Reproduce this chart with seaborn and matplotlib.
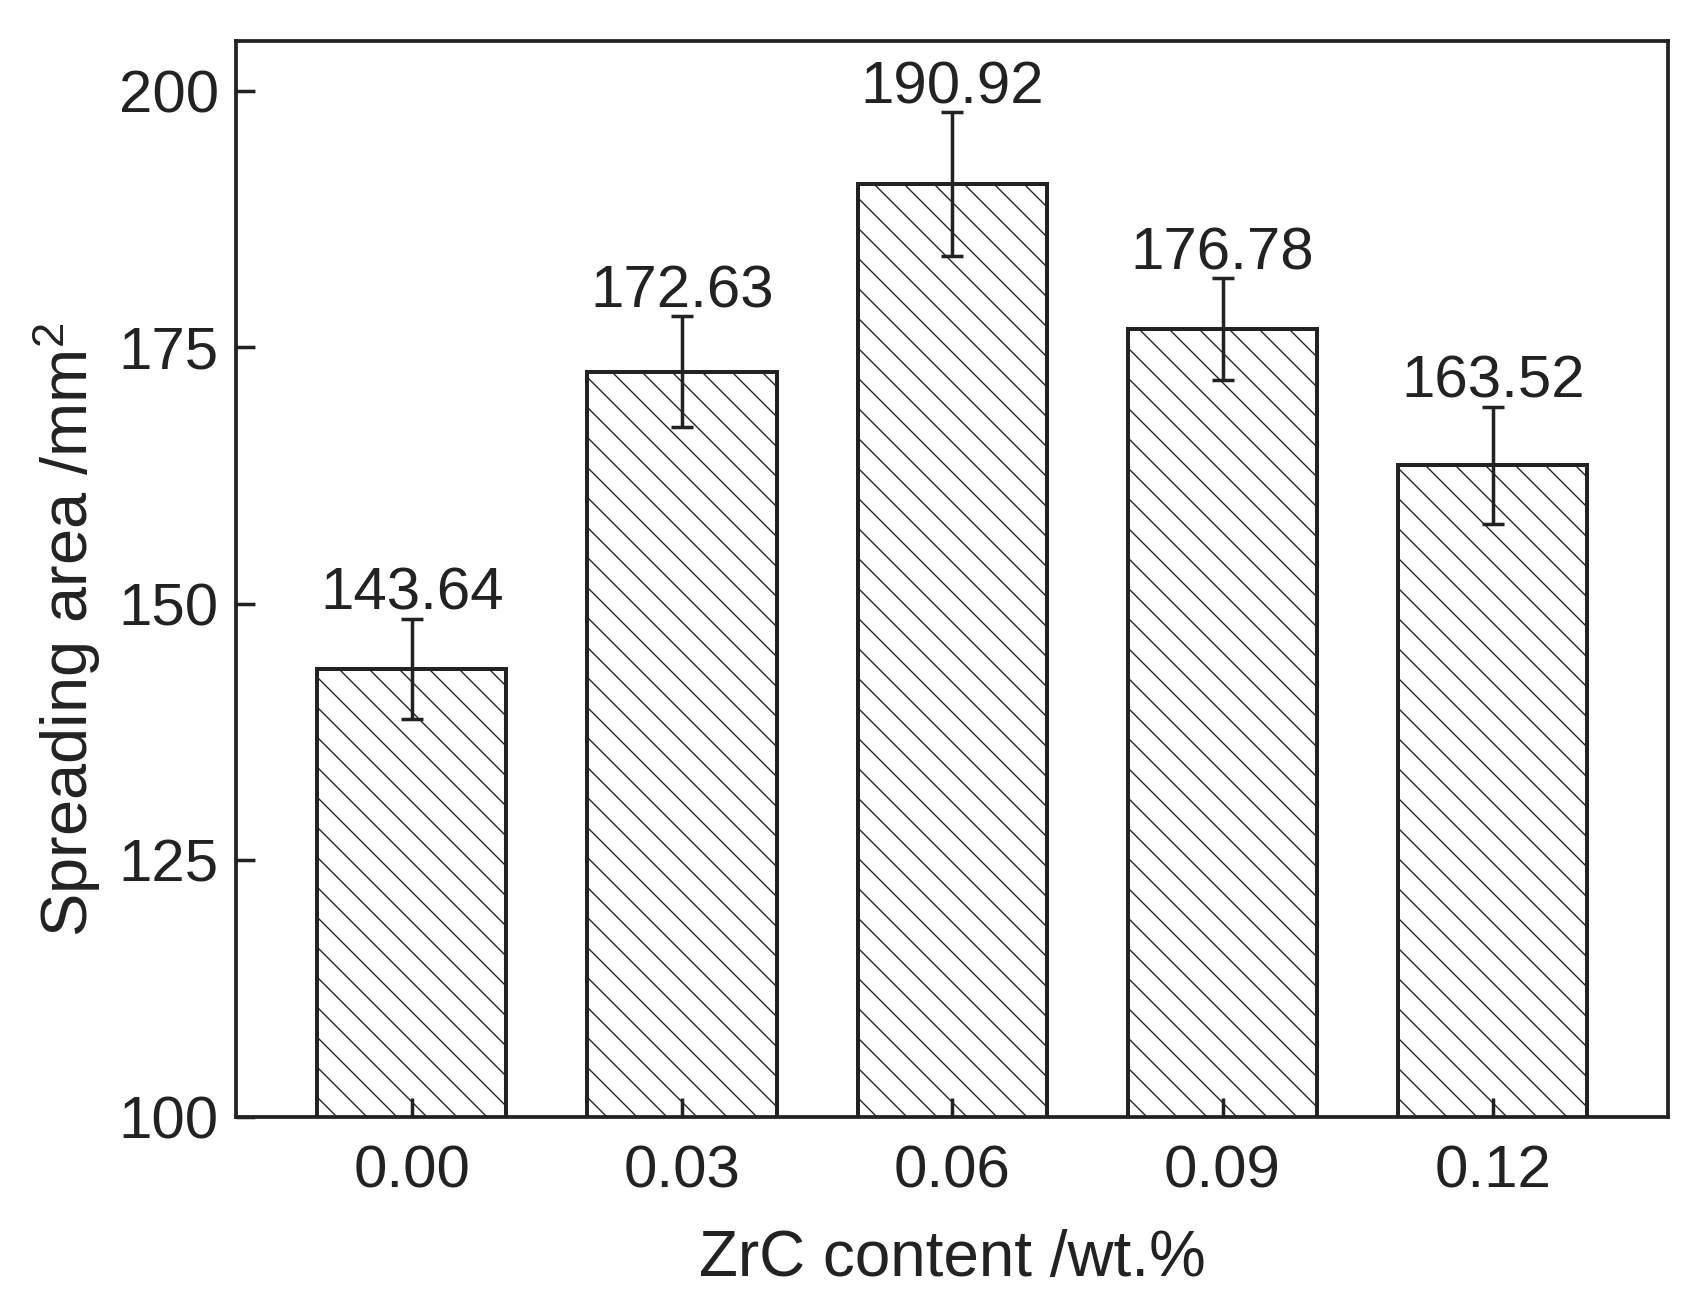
import matplotlib
matplotlib.use("Agg")
import matplotlib.pyplot as plt
import numpy as np
import seaborn as sns

zrc_content = ["0.00", "0.03", "0.06", "0.09", "0.12"]
spreading_area = [143.64, 172.63, 190.92, 176.78, 163.52]
area_error = [4.9, 5.4, 7.0, 5.0, 5.7]
y_ticks = [100, 125, 150, 175, 200]

sns.set_style("ticks")
plt.rcParams["font.family"] = ["Liberation Sans", "DejaVu Sans"]
plt.rcParams["mathtext.fontset"] = "custom"
plt.rcParams["mathtext.rm"] = "Liberation Sans"
plt.rcParams["mathtext.it"] = "Liberation Sans"
plt.rcParams["hatch.linewidth"] = 0.55
plt.rcParams["hatch.color"] = "#3a3a3a"

ink = "#222222"
dpi = 180
fig, ax = plt.subplots(figsize=(1699 / dpi, 1312 / dpi), dpi=dpi)
fig.subplots_adjust(left=0.139, right=0.982, top=0.969, bottom=0.149)

sns.barplot(x=zrc_content, y=spreading_area, color="white", saturation=1,
            edgecolor=ink, linewidth=1.6, hatch="\\\\", width=0.7, ax=ax)
ax.errorbar(np.arange(len(zrc_content)), spreading_area, yerr=area_error,
            fmt="none", ecolor=ink, elinewidth=1.4, capsize=4.5, capthick=1.4,
            zorder=5)

for i, (v, e) in enumerate(zip(spreading_area, area_error)):
    ax.annotate(f"{v:.2f}", (i, v + e), xytext=(0, 3.5), textcoords="offset points",
                ha="center", va="baseline", fontsize=24, color=ink)

ax.set_xlim(-0.65, len(zrc_content) - 0.35)
ax.set_ylim(100, 204.9)
ax.set_yticks(y_ticks)
ax.set_axisbelow(False)

for side in ["left", "right", "top", "bottom"]:
    ax.spines[side].set_visible(True)
    ax.spines[side].set_linewidth(1.5)
    ax.spines[side].set_color(ink)

ax.tick_params(axis="both", direction="in", length=7.5, width=1.4, color=ink,
               labelsize=24, labelcolor=ink)
ax.tick_params(axis="y", pad=7)
ax.tick_params(axis="x", pad=11)

ax.set_xlabel("ZrC content /wt.%", fontsize=25.5, color=ink, labelpad=12)
ax.set_ylabel("Spreading area /mm$^2$", fontsize=26, color=ink)
ax.yaxis.set_label_coords(-0.093, 0.452)

fig.savefig("out.png", dpi=dpi)
